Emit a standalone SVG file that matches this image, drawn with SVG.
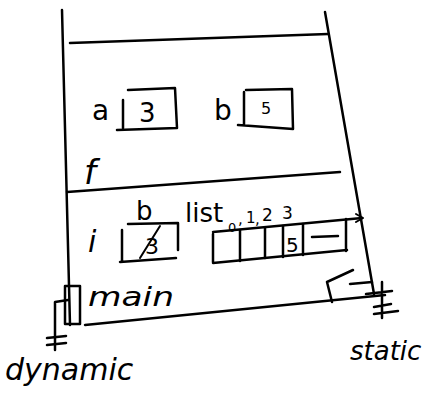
<svg xmlns="http://www.w3.org/2000/svg" width="439" height="400" viewBox="0 0 439 400">
<style>
.ln{stroke:#000;stroke-width:2.5;fill:none;stroke-linecap:round;stroke-linejoin:round}
.th{stroke:#000;stroke-width:2;fill:none;stroke-linecap:round;stroke-linejoin:round}
.t{font-family:"DejaVu Sans","Liberation Sans",sans-serif;fill:#000}
</style>
<rect width="439" height="400" fill="#fff"/>
<g id="stack-frame">
<line class="ln" x1="62" y1="10" x2="70" y2="325"/>
<line class="ln" x1="325" y1="12" x2="374" y2="294"/>
<line class="ln" x1="70" y1="43" x2="328" y2="34"/>
<line class="ln" x1="67" y1="192" x2="340" y2="172"/>
<line class="ln" x1="85" y1="325" x2="385" y2="295"/>
</g>
<g id="frame-f">
<text class="t" x="84" y="184" font-size="34" font-style="italic">f</text>
</g>
<g id="var-a">
<text class="t" x="92" y="120" font-size="28">a</text>
<path class="ln" d="M123 100 L123 128 M128 90 L175 88 L177 128 L117 130"/>
<text class="t" x="139" y="122" font-size="26">3</text>
</g>
<g id="var-b">
<text class="t" x="214" y="120" font-size="28">b</text>
<path class="ln" d="M244 92 L244 125 M246 90 L292 89 L293 129 L238 125"/>
<text class="t" x="261" y="114" font-size="16">5</text>
</g>
<g id="frame-main">
<path class="ln" d="M65 286 L80 286 L80 324 L65 324 Z"/>
<text class="t" x="88" y="306" font-size="26" font-style="italic" textLength="86" lengthAdjust="spacingAndGlyphs">main</text>
</g>
<g id="var-i">
<text class="t" x="88" y="252" font-size="30" font-style="italic">i</text>
<text class="t" x="136" y="220" font-size="26">b</text>
<path class="ln" d="M122 230 L122 262 M128 224 L178 223 L178 250 M120 262 L176 258"/>
<text class="t" x="145" y="254" font-size="22">3</text>
<line class="th" x1="140" y1="258" x2="160" y2="226"/>
</g>
<g id="list">
<text class="t" x="185" y="222" font-size="26">list</text>
<text class="t" x="228" y="232" font-size="13">0</text>
<text class="t" x="238" y="224" font-size="15">,</text>
<text class="t" x="246" y="223" font-size="15">1</text>
<text class="t" x="255" y="224" font-size="15">,</text>
<text class="t" x="262" y="221" font-size="17">2</text>
<text class="t" x="282" y="219" font-size="17">3</text>
<path class="ln" d="M213 232 L362 218 M213 263 L347 250"/>
<path class="ln" d="M213 234 L213 262 M240 230 L240 261 M265 228 L265 258 M283 226 L283 257 M303 224 L303 255 M346 219 L346 251"/>
<text class="t" x="286" y="252" font-size="20">5</text>
<line class="ln" x1="312" y1="237" x2="338" y2="236"/>
<path class="th" d="M356 214 L363 218 L356 222"/>
</g>
<g id="connectors">
<path class="ln" d="M68 300 L55 302 L55 350"/>
<path class="ln" d="M47 338 L66 336 M47 345 L66 343"/>
<path class="ln" d="M353 270 L327 282 L332 302"/>
<path class="ln" d="M350 284 L372 282 M382 282 L382 318 M366 294 L392 291 M374 307 L391 304 M374 314 L398 311"/>
</g>
<g id="labels">
<text class="t" x="5" y="380" font-size="30" font-style="italic">dynamic</text>
<text class="t" x="350" y="360" font-size="26" font-style="italic">static</text>
</g>
</svg>
